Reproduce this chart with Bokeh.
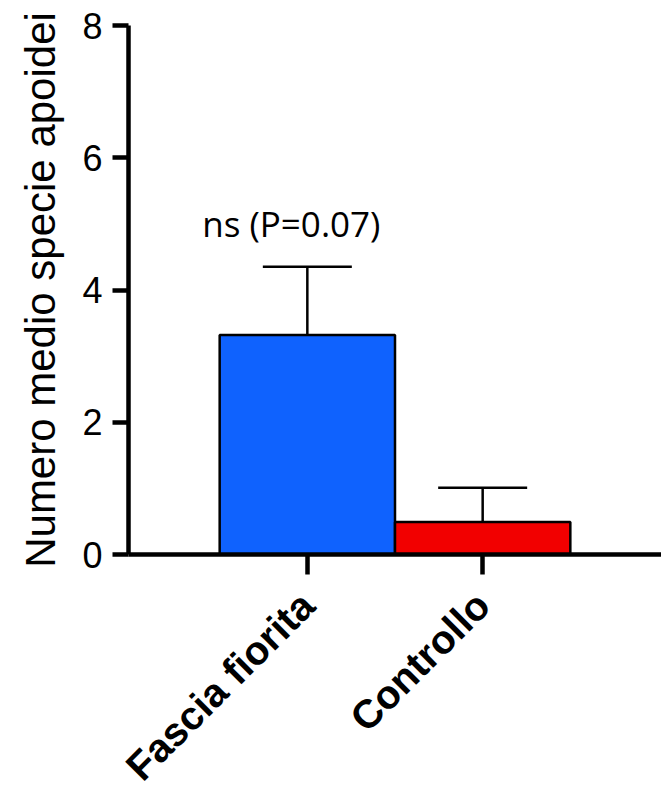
from bokeh.plotting import figure
from bokeh.models import FactorRange, Range1d, ColumnDataSource, Whisker, TeeHead, FixedTicker
from bokeh.core.properties import value
from bokeh.embed import file_html
from bokeh.resources import INLINE
import math

# ---- data ----
categories = ["Fascia fiorita", "Controllo"]
means = [3.32, 0.49]
sem = [1.03, 0.52]
bar_colors = ["#0F62FE", "#F20000"]
y_ticks = [0, 2, 4, 6, 8]
annot_text = ["ns (P=0.07)"]
annot_cat = ["Fascia fiorita"]
annot_y = [5.0]

upper = [m + e for m, e in zip(means, sem)]
src = ColumnDataSource(dict(cat=categories, mean=means, upper=upper, color=bar_colors))

p = figure(
    x_range=FactorRange(factors=categories, range_padding=0.52),
    y_range=Range1d(0, 8),
    frame_width=533, frame_height=529,
    min_border_left=128, min_border_top=25, min_border_right=0, min_border_bottom=0,
    output_backend="svg", toolbar_location=None,
)
p.outline_line_color = None
p.xgrid.grid_line_color = None
p.ygrid.grid_line_color = None
p.background_fill_color = "white"
p.border_fill_color = "white"

p.vbar(x="cat", top="mean", width=1.0, source=src, fill_color="color",
       line_color="black", line_width=2.5)

w = Whisker(base="cat", lower="mean", upper="upper", source=src, dimension="height",
            line_color="black", line_width=2.5,
            upper_head=TeeHead(size=89, line_color="black", line_width=2.5),
            lower_head=None)
p.add_layout(w)

p.text(x=annot_cat, y=annot_y, text=annot_text, x_offset=-16,
       text_align="center", text_baseline="alphabetic",
       text_font=value("Open Sans"), text_font_size="35px", text_color="black")

# y axis
ya = p.yaxis[0]
ya.ticker = FixedTicker(ticks=y_ticks)
ya.axis_label = "Numero medio specie apoidei"
ya.axis_label_text_font = "Liberation Sans"
ya.axis_label_text_font_size = "42px"
ya.axis_label_text_font_style = "normal"
ya.axis_label_text_color = "black"
ya.axis_label_standoff = 15
ya.major_label_text_font = "Liberation Sans"
ya.major_label_text_font_size = "36px"
ya.major_label_standoff = 10
ya.axis_line_width = 4.5
ya.major_tick_line_width = 4.5
ya.major_tick_out = 16
ya.major_tick_in = 0
ya.minor_tick_line_color = None
ya.axis_line_color = "black"
ya.major_tick_line_color = "black"
ya.major_label_text_color = "black"

# x axis
xa = p.xaxis[0]
xa.major_label_orientation = math.pi / 4
xa.major_label_text_font = "Liberation Sans"
xa.major_label_text_font_style = "bold"
xa.major_label_text_font_size = "40px"
xa.major_label_text_color = "black"
xa.major_label_standoff = 24
xa.axis_line_width = 4.5
xa.major_tick_line_width = 4.5
xa.major_tick_out = 20
xa.major_tick_in = 0
xa.axis_line_color = "black"
xa.major_tick_line_color = "black"

open("out.html", "w").write(file_html(p, INLINE))
